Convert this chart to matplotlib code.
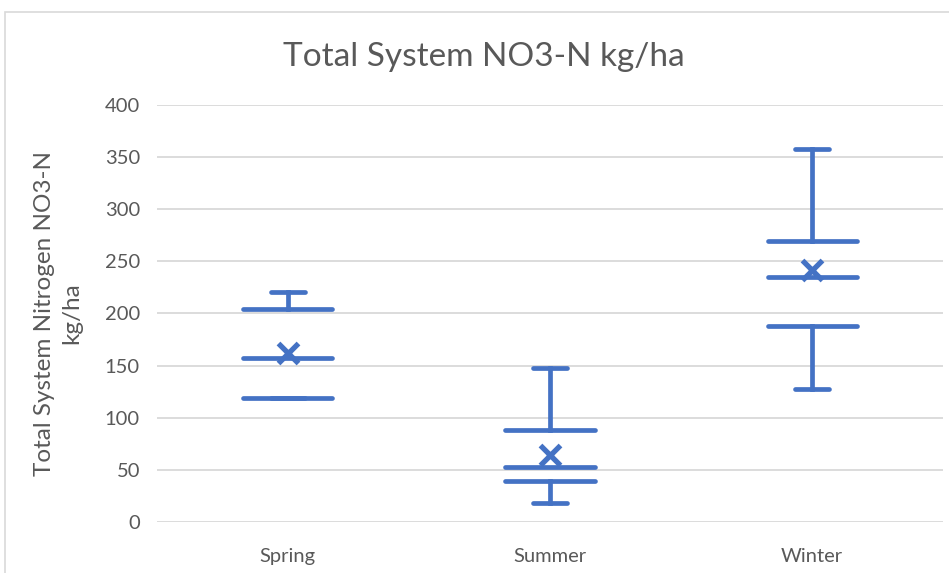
import matplotlib.pyplot as plt
from matplotlib.patches import Rectangle

# box statistics
seasons = ["Spring", "Summer", "Winter"]
whislo = [119, 18, 128]
q1 = [119, 39, 188]
med = [157, 53, 235]
q3 = [204, 88, 269]
whishi = [221, 148, 358]
means = [162, 64, 242]

blue = "#4472C4"
grey = "#595959"

plt.rcParams['font.family'] = ['Lato', 'DejaVu Sans']

fig = plt.figure(figsize=(9.49, 5.73), dpi=100)
ax = fig.add_axes([0.165, 0.089, 0.829, 0.728])

# chart border (cropped on right/bottom)
fig.patches.append(Rectangle((5 / 949, -0.05), 1.2, 1 - 12 / 573 + 0.05,
                             transform=fig.transFigure, fill=False,
                             edgecolor="#d9d9d9", linewidth=1.2))

stats = []
for i, s in enumerate(seasons):
    stats.append(dict(label=s, whislo=whislo[i], q1=q1[i], med=med[i],
                      q3=q3[i], whishi=whishi[i], mean=means[i]))

lw = 3.4
ax.bxp(stats, positions=[0, 1, 2], widths=0.34, showmeans=True,
       showfliers=False, patch_artist=False,
       boxprops=dict(linewidth=0),
       medianprops=dict(color=blue, linewidth=lw, solid_capstyle="round"),
       whiskerprops=dict(color=blue, linewidth=lw),
       capprops=dict(color=blue, linewidth=lw, solid_capstyle="round"),
       capwidths=0.13,
       meanprops=dict(marker="x", markeredgecolor=blue, markersize=15,
                      markeredgewidth=3.8))

# quartile lines (box has no sides)
for i in range(len(seasons)):
    ax.hlines([q1[i], q3[i]], i - 0.17, i + 0.17, color=blue, linewidth=lw,
              capstyle="round")

ax.set_xlim(-0.5, 2.5)
ax.set_ylim(0, 400)
ax.set_yticks(range(0, 401, 50))
ax.grid(axis="y", color="#d9d9d9", linewidth=1.3)
ax.set_axisbelow(True)
for sp in ax.spines.values():
    sp.set_visible(False)
ax.tick_params(length=0, labelsize=14.5, colors=grey)
ax.tick_params(axis="y", pad=12)
ax.tick_params(axis="x", pad=19)
ax.set_xticks([0, 1, 2], seasons)

ax.set_ylabel("Total System Nitrogen NO3-N\nkg/ha", fontsize=17.5, color=grey,
              labelpad=16, linespacing=1.35)
fig.text(0.51, 0.9, "Total System NO3-N kg/ha", ha="center", va="center",
         fontsize=24, color=grey)

fig.savefig("out.png", dpi=100)
